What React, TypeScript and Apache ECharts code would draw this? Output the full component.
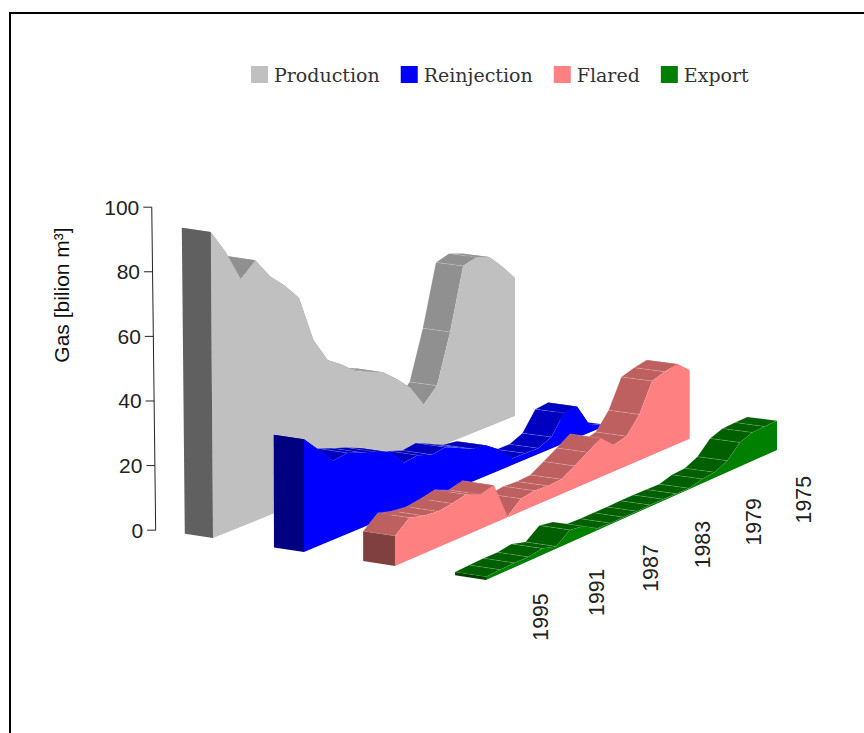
import React, { useEffect, useRef } from "react";
import * as echarts from "echarts";

// Gas balance by year, newest year on the left, billions of cubic metres.
const years = [
  1997, 1996, 1995, 1994, 1993, 1992, 1991, 1990, 1989, 1988, 1987, 1986,
  1985, 1984, 1983, 1982, 1981, 1980, 1979, 1978, 1977, 1976, 1975,
];
const production = [95, 87.2, 77.2, 81.6, 75, 70.5, 65, 50, 42, 38.9, 35, 33.2, 31.4, 27.5, 23, 15.8, 20.3, 36.3, 56.5, 57.9, 56.4, 51.7, 46.3];
const reinjection = [35, 30, 24.7, 25.4, 23.7, 22.1, 20.2, 15.1, 15.7, 14.1, 14.7, 12.7, 10.6, 10, 6.8, 2.1, 2, 1.9, 3.8, 10, 10.5, 2.5, 1];
const flared = [9.3, 13.1, 11.8, 11.3, 11.9, 12.9, 11, 12.1, 0.3, 4.1, 4.8, 4.5, 4.8, 7.3, 9.9, 12.7, 8.7, 9.8, 15.2, 24.5, 25.9, 26.8, 23];
const exported = [1, 1.2, 1.35, 1.3, 2, 0.7, 4, 3.2, 0.6, 0.4, 0.4, 0.4, 0.5, 0.5, 0.4, 0.3, 1.5, 1.8, 3.8, 8, 9.5, 9.7, 9.8];
const valueTicks = [0, 20, 40, 60, 80, 100];
const yearLabels = [1995, 1991, 1987, 1983, 1979, 1975];

const palette = [
  { name: "Production", values: production, front: "#C0C0C0", top: "#909090", cap: "#606060" },
  { name: "Reinjection", values: reinjection, front: "#0000FF", top: "#0000C0", cap: "#000080" },
  { name: "Flared", values: flared, front: "#FF8080", top: "#BF6060", cap: "#804040" },
  { name: "Export", values: exported, front: "#008000", top: "#006000", cap: "#004000" },
];

// The hidden cartesian grid supplies the scales; its unit square is then
// projected onto the sloping floor of the 3D scene.
const GRID = { left: 156, top: 208, width: 500, height: 322 };
const ROW_DEPTH = [0.31, 0.33, 0.35, 0.34];
const AXIS_ROW = -0.63;

const lerp = (a: number, b: number, f: number) => a + (b - a) * f;

function project(t: number, h: number, row: number): number[] {
  const u = (t * 1.08) / (1 + 0.08 * t);
  const x = lerp(213 + 91 * row, 515 + 87.33 * row, u);
  const y = lerp(538 + 14 * row, 416 + 11.33 * row, u);
  const scale = GRID.height * (1 - 0.075 * t);
  const lean = Math.max(0, 2.4 * (1 - row)) * (1 - u);
  return [x - lean * h, y - scale * h];
}

function scene(api: any, index: number, value: number, row: number): number[] {
  const p = api.coord([index, value]);
  const t = (p[0] - GRID.left) / GRID.width;
  const h = (GRID.top + GRID.height - p[1]) / GRID.height;
  return project(t, h, row);
}

const edge = "rgba(255,255,255,0.2)";

function ribbonRenderer(values: number[], row: number, colors: (typeof palette)[number]) {
  const back = row - ROW_DEPTH[row];
  return (params: any, api: any) => {
    const i = api.value(0) as number;
    const children: any[] = [];
    if (i < values.length - 1) {
      children.push({
        type: "polygon",
        shape: {
          points: [
            scene(api, i, values[i], row),
            scene(api, i + 1, values[i + 1], row),
            scene(api, i + 1, values[i + 1], back),
            scene(api, i, values[i], back),
          ],
        },
        style: { fill: colors.top, stroke: edge, lineWidth: 0.6 },
      });
    }
    if (i === 0) {
      const outline = values.map((v, j) => scene(api, j, v, row));
      outline.push(scene(api, values.length - 1, 0, row), scene(api, 0, 0, row));
      children.push({ type: "polygon", shape: { points: outline }, style: { fill: colors.front } });
      children.push({
        type: "polygon",
        shape: {
          points: [
            scene(api, 0, values[0], row),
            scene(api, 0, 0, row),
            scene(api, 0, 0, back),
            scene(api, 0, values[0], back),
          ],
        },
        style: { fill: colors.cap },
      });
    }
    return { type: "group", children };
  };
}

function axisRenderer(params: any, api: any) {
  const v = api.value(1) as number;
  const a = scene(api, 0, v, AXIS_ROW);
  const drop = 1 - v / 100;
  const y = a[1] + drop;
  const children: any[] = [
    {
      type: "line",
      shape: { x1: a[0] - 8.5, y1: y, x2: a[0], y2: y },
      style: { stroke: "#222", lineWidth: 1 },
    },
    {
      type: "text",
      x: a[0] - 12.5,
      y,
      style: {
        text: String(v),
        align: "right",
        verticalAlign: "middle",
        fill: "#222",
        font: '21px "Liberation Sans"',
      },
    },
  ];
  if (v === 0) {
    const b = scene(api, 0, 100, AXIS_ROW);
    children.push({
      type: "line",
      shape: { x1: a[0], y1: y, x2: b[0], y2: b[1] },
      style: { stroke: "#222", lineWidth: 1 },
    });
  }
  return { type: "group", children };
}

function yearRenderer(params: any, api: any) {
  const p = scene(api, api.value(0) as number, 0, 3);
  return {
    type: "text",
    x: p[0] + 27,
    y: p[1] + 26,
    rotation: Math.PI / 2,
    style: {
      text: String(years[api.value(0) as number]),
      align: "right",
      verticalAlign: "middle",
      fill: "#222",
      font: '21.3px "Liberation Sans"',
    },
  };
}

export default function App() {
  const ref = useRef<HTMLDivElement>(null);
  useEffect(() => {
    const chart = echarts.init(ref.current!, undefined, { renderer: "svg" });
    const series: any[] = palette.map((c, row) => ({
      type: "custom",
      name: c.name,
      coordinateSystem: "cartesian2d",
      clip: false,
      silent: true,
      itemStyle: { color: c.front },
      renderItem: ribbonRenderer(c.values, row, c),
      // Far end first, so that nearer facets paint over it.
      data: c.values.map((v, i) => [i, v]).reverse(),
    }));
    series.push({
      type: "custom",
      coordinateSystem: "cartesian2d",
      clip: false,
      silent: true,
      renderItem: axisRenderer,
      data: valueTicks.map((v) => [0, v]),
    });
    series.push({
      type: "custom",
      coordinateSystem: "cartesian2d",
      clip: false,
      silent: true,
      renderItem: yearRenderer,
      data: yearLabels.map((y) => [years.indexOf(y), 0]),
    });
    chart.setOption({
      animation: false,
      backgroundColor: "#fff",
      grid: GRID,
      xAxis: { type: "category", show: false, boundaryGap: false, data: years.map(String) },
      yAxis: { type: "value", show: false, min: 0, max: 100, interval: 20 },
      legend: {
        left: 246,
        top: 60,
        icon: "rect",
        itemWidth: 17,
        itemHeight: 17,
        itemGap: 21,
        data: palette.map((c) => c.name),
        selectedMode: false,
        textStyle: {
          fontFamily: "DejaVu Serif",
          fontSize: 19,
          color: "#333",
          padding: [0, 0, 5, 1],
        },
      },
      graphic: [
        {
          type: "polyline",
          shape: { points: [[10, 733], [10, 13], [864, 13]] },
          style: { stroke: "#000", lineWidth: 2, fill: "none" },
        },
        {
          type: "text",
          x: 61,
          y: 295,
          rotation: Math.PI / 2,
          style: {
            text: "Gas [bilion m³]",
            align: "center",
            verticalAlign: "middle",
            fill: "#111",
            font: '21px "Liberation Sans"',
          },
        },
      ],
      series,
    });
    return () => chart.dispose();
  }, []);
  return <div ref={ref} style={{ position: "fixed", left: 0, top: 0, width: 864, height: 733 }} />;
}
